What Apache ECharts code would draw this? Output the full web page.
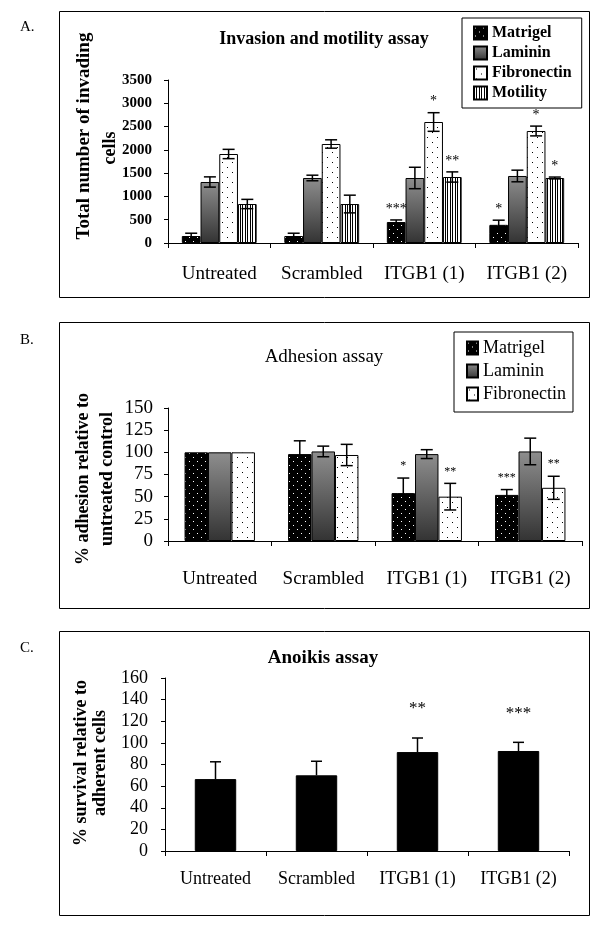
<!DOCTYPE html>
<html>
<head>
<meta charset="utf-8">
<title>Invasion, adhesion and anoikis assays</title>
<script src="https://cdn.jsdelivr.net/npm/echarts@6/dist/echarts.min.js"></script>
<style>
  html, body { margin: 0; padding: 0; background: #fff; }
  #chart { width: 602px; height: 930px; }
</style>
</head>
<body>
<div id="chart"></div>
<script>
// categories shared by the three panels
const categories = ['Untreated', 'Scrambled', 'ITGB1 (1)', 'ITGB1 (2)'];

// A. invasion and motility (number of cells)
const invTicks = [0, 500, 1000, 1500, 2000, 2500, 3000, 3500];
const invMatrigel = [150, 150, 450, 390];
const invMatrigelErr = [60, 60, 45, 100];
const invMatrigelSig = ['', '', '***', '*'];
const invLaminin = [1310, 1396, 1396, 1439];
const invLamininErr = [110, 60, 230, 125];
const invFibronectin = [1911, 2126, 2598, 2405];
const invFibronectinErr = [100, 90, 200, 105];
const invFibronectinSig = ['', '', '*', '*'];
const invMotility = [837, 837, 1417, 1396];
const invMotilityErr = [100, 190, 110, 20];
const invMotilitySig = ['', '', '**', '*'];

// B. adhesion (% of untreated control)
const adhTicks = [0, 25, 50, 75, 100, 125, 150];
const adhMatrigel = [100, 98, 54, 52];
const adhMatrigelErr = [0, 15, 17, 6];
const adhMatrigelSig = ['', '', '*', '***'];
const adhLaminin = [100, 101, 98, 101];
const adhLamininErr = [0, 6, 5, 15];
const adhFibronectin = [100, 97, 50, 60];
const adhFibronectinErr = [0, 12, 15, 13];
const adhFibronectinSig = ['', '', '**', '**'];

// C. anoikis (% survival relative to adherent cells)
const anoTicks = [0, 20, 40, 60, 80, 100, 120, 140, 160];
const anoSurvival = [66.5, 70, 91.5, 92.5];
const anoSurvivalErr = [16, 13, 13, 8];
const anoSurvivalSig = ['', '', '**', '***'];

const noSig = ['', '', '', ''];
const FONT = '"Liberation Serif", "Times New Roman", serif';

// fill patterns
function dots(bg, fg, size, pts) {
  const c = document.createElement('canvas');
  c.width = size; c.height = size;
  const ctx = c.getContext('2d');
  ctx.fillStyle = bg; ctx.fillRect(0, 0, size, size);
  ctx.fillStyle = fg;
  pts.forEach(p => ctx.fillRect(p[0], p[1], 1, 1));
  return { image: c, repeat: 'repeat' };
}
function stripes() {
  const c = document.createElement('canvas');
  c.width = 5; c.height = 4;
  const ctx = c.getContext('2d');
  ctx.fillStyle = '#fff'; ctx.fillRect(0, 0, 5, 4);
  ctx.fillStyle = '#000';
  ctx.fillRect(0, 0, 1, 4);
  ctx.fillRect(2, 0, 1, 4);
  return { image: c, repeat: 'repeat' };
}
const fillMatrigel = dots('#000', '#fff', 8, [[1, 1], [5, 5]]);
const fillFibronectin = dots('#fff', '#000', 10, [[2, 2], [7, 7]]);
const fillMotility = stripes();
const fillLaminin = new echarts.graphic.LinearGradient(0, 0, 0, 1, [
  { offset: 0, color: '#8e8e8e' },
  { offset: 1, color: '#333333' }
]);

function bar(name, grid, data, fill, gap) {
  return {
    name: name, type: 'bar', xAxisIndex: grid, yAxisIndex: grid,
    data: data, barGap: '0%', barCategoryGap: (gap * 100) + '%',
    itemStyle: { color: fill, borderColor: '#000', borderWidth: 1 },
    silent: true
  };
}

// error bars + significance stars drawn on top of bar k of n
function errorBars(grid, values, errs, sigs, k, n, gap, opt) {
  return {
    type: 'custom', xAxisIndex: grid, yAxisIndex: grid, z: 5, silent: true,
    encode: { x: 0, y: 1 },
    data: values.map((v, i) => [i, v, errs[i]]),
    renderItem: function (params, api) {
      const i = api.value(0), v = api.value(1), e = api.value(2);
      const band = api.size([1, 0])[0];
      const barW = band * (1 - gap) / n;
      const mid = api.coord([i, v]);
      const x = mid[0] + (k - (n - 1) / 2) * barW;
      const top = api.coord([i, v + e])[1];
      const bottom = opt.upperOnly ? mid[1] : api.coord([i, v - e])[1];
      const st = { stroke: '#000', lineWidth: 1.5 };
      const half = opt.cap / 2;
      const children = [];
      if (e > 0) {
        children.push({ type: 'line', shape: { x1: x, y1: top, x2: x, y2: bottom }, style: st });
        children.push({ type: 'line', shape: { x1: x - half, y1: top, x2: x + half, y2: top }, style: st });
        if (!opt.upperOnly) {
          children.push({ type: 'line', shape: { x1: x - half, y1: bottom, x2: x + half, y2: bottom }, style: st });
        }
      }
      const sig = sigs[params.dataIndex];
      if (sig) {
        children.push({
          type: 'text',
          style: {
            text: sig, x: x, y: top - opt.starGap,
            align: 'center', verticalAlign: 'middle',
            textAlign: 'center', textVerticalAlign: 'middle',
            font: opt.starFont, fill: '#000'
          }
        });
      }
      return { type: 'group', children: children };
    }
  };
}

function xAxis(grid, size, margin) {
  return {
    gridIndex: grid, type: 'category', data: categories,
    axisLine: { show: true, lineStyle: { color: '#000', width: 1 } },
    axisTick: { show: true, length: 5, interval: 0, lineStyle: { color: '#000' } },
    axisLabel: { interval: 0, color: '#000', fontFamily: FONT, fontSize: size, margin: margin }
  };
}

function yAxis(grid, ticks, label) {
  return {
    gridIndex: grid, type: 'value',
    min: ticks[0], max: ticks[ticks.length - 1], interval: ticks[1] - ticks[0],
    axisLine: { show: true, lineStyle: { color: '#000', width: 1 } },
    axisTick: { show: true, length: 4, lineStyle: { color: '#000' } },
    splitLine: { show: false },
    axisLabel: Object.assign({ color: '#000', fontFamily: FONT, formatter: v => String(v) }, label)
  };
}

function text(t, x, y, font, align, rotate) {
  return {
    type: 'text', x: x, y: y, rotation: rotate ? Math.PI / 2 : 0, silent: true,
    style: {
      text: t, font: font, fill: '#000',
      align: align || 'left', textAlign: align || 'left',
      verticalAlign: 'middle', textVerticalAlign: 'middle'
    }
  };
}
function frame(y, h) {
  return {
    type: 'rect', silent: true,
    shape: { x: 59.5, y: y + 0.5, width: 530, height: h },
    style: { fill: 'none', stroke: '#000', lineWidth: 1 }
  };
}

const gapA = 0.27, gapB = 0.32, gapC = 0.59;
const errA = { cap: 12, starGap: 11, starFont: '14px ' + FONT };
const errB = { cap: 12, starGap: 12, starFont: '12px ' + FONT };
const errC = { cap: 11, starGap: 29, starFont: '17px ' + FONT, upperOnly: true };

const option = {
  animation: false,
  backgroundColor: '#fff',
  grid: [
    { left: 168, top: 80, width: 410, height: 163 },
    { left: 168, top: 408, width: 414, height: 133 },
    { left: 165, top: 678, width: 404, height: 173 }
  ],
  legend: [
    {
      data: ['Matrigel', 'Laminin', 'Fibronectin', 'Motility'],
      left: 462, top: 18, orient: 'vertical', icon: 'rect', selectedMode: false,
      itemWidth: 13, itemHeight: 13, itemGap: 4, padding: [7, 10, 7, 11],
      borderColor: '#000', borderWidth: 1,
      textStyle: { fontFamily: FONT, fontSize: 16, fontWeight: 'bold', color: '#000', lineHeight: 16 }
    },
    {
      data: ['Matrigel', 'Laminin', 'Fibronectin'],
      left: 454, top: 332, orient: 'vertical', icon: 'rect', selectedMode: false,
      itemWidth: 11, itemHeight: 13, itemGap: 5, padding: [7, 7, 9, 12],
      borderColor: '#000', borderWidth: 1,
      textStyle: { fontFamily: FONT, fontSize: 18, color: '#000', lineHeight: 18 }
    }
  ],
  xAxis: [xAxis(0, 19, 22), xAxis(1, 19, 29), xAxis(2, 18, 19)],
  yAxis: [
    yAxis(0, invTicks, { fontSize: 15, fontWeight: 'bold', margin: 16 }),
    yAxis(1, adhTicks, { fontSize: 19, margin: 15 }),
    yAxis(2, anoTicks, { fontSize: 18, margin: 17 })
  ],
  series: [
    bar('Matrigel', 0, invMatrigel, fillMatrigel, gapA),
    bar('Laminin', 0, invLaminin, fillLaminin, gapA),
    bar('Fibronectin', 0, invFibronectin, fillFibronectin, gapA),
    bar('Motility', 0, invMotility, fillMotility, gapA),
    errorBars(0, invMatrigel, invMatrigelErr, invMatrigelSig, 0, 4, gapA, errA),
    errorBars(0, invLaminin, invLamininErr, noSig, 1, 4, gapA, errA),
    errorBars(0, invFibronectin, invFibronectinErr, invFibronectinSig, 2, 4, gapA, errA),
    errorBars(0, invMotility, invMotilityErr, invMotilitySig, 3, 4, gapA, errA),

    bar('Matrigel', 1, adhMatrigel, fillMatrigel, gapB),
    bar('Laminin', 1, adhLaminin, fillLaminin, gapB),
    bar('Fibronectin', 1, adhFibronectin, fillFibronectin, gapB),
    errorBars(1, adhMatrigel, adhMatrigelErr, adhMatrigelSig, 0, 3, gapB, errB),
    errorBars(1, adhLaminin, adhLamininErr, noSig, 1, 3, gapB, errB),
    errorBars(1, adhFibronectin, adhFibronectinErr, adhFibronectinSig, 2, 3, gapB, errB),

    bar('Survival', 2, anoSurvival, '#000', gapC),
    errorBars(2, anoSurvival, anoSurvivalErr, anoSurvivalSig, 0, 1, gapC, errC)
  ],
  graphic: [
    frame(11, 286),
    frame(322, 286),
    frame(631, 284),
    text('A.', 20, 27, '15px ' + FONT),
    text('B.', 20, 340, '15px ' + FONT),
    text('C.', 20, 648, '15px ' + FONT),
    text('Invasion and motility assay', 324, 39, 'bold 18px ' + FONT, 'center'),
    text('Adhesion assay', 324, 357, '19px ' + FONT, 'center'),
    text('Anoikis assay', 323, 658, 'bold 19px ' + FONT, 'center'),
    // rotated axis titles
    text('Total number of invading', 84, 136, 'bold 19px ' + FONT, 'center', true),
    text('cells', 110, 148, 'bold 18px ' + FONT, 'center', true),
    text('% adhesion relative to', 83, 479, 'bold 18px ' + FONT, 'center', true),
    text('untreated control', 107, 479, 'bold 18px ' + FONT, 'center', true),
    text('% survival relative to', 81, 763, 'bold 18px ' + FONT, 'center', true),
    text('adherent cells', 100, 763, 'bold 18px ' + FONT, 'center', true)
  ]
};

const chart = echarts.init(document.getElementById('chart'));
chart.setOption(option);
</script>
</body>
</html>
